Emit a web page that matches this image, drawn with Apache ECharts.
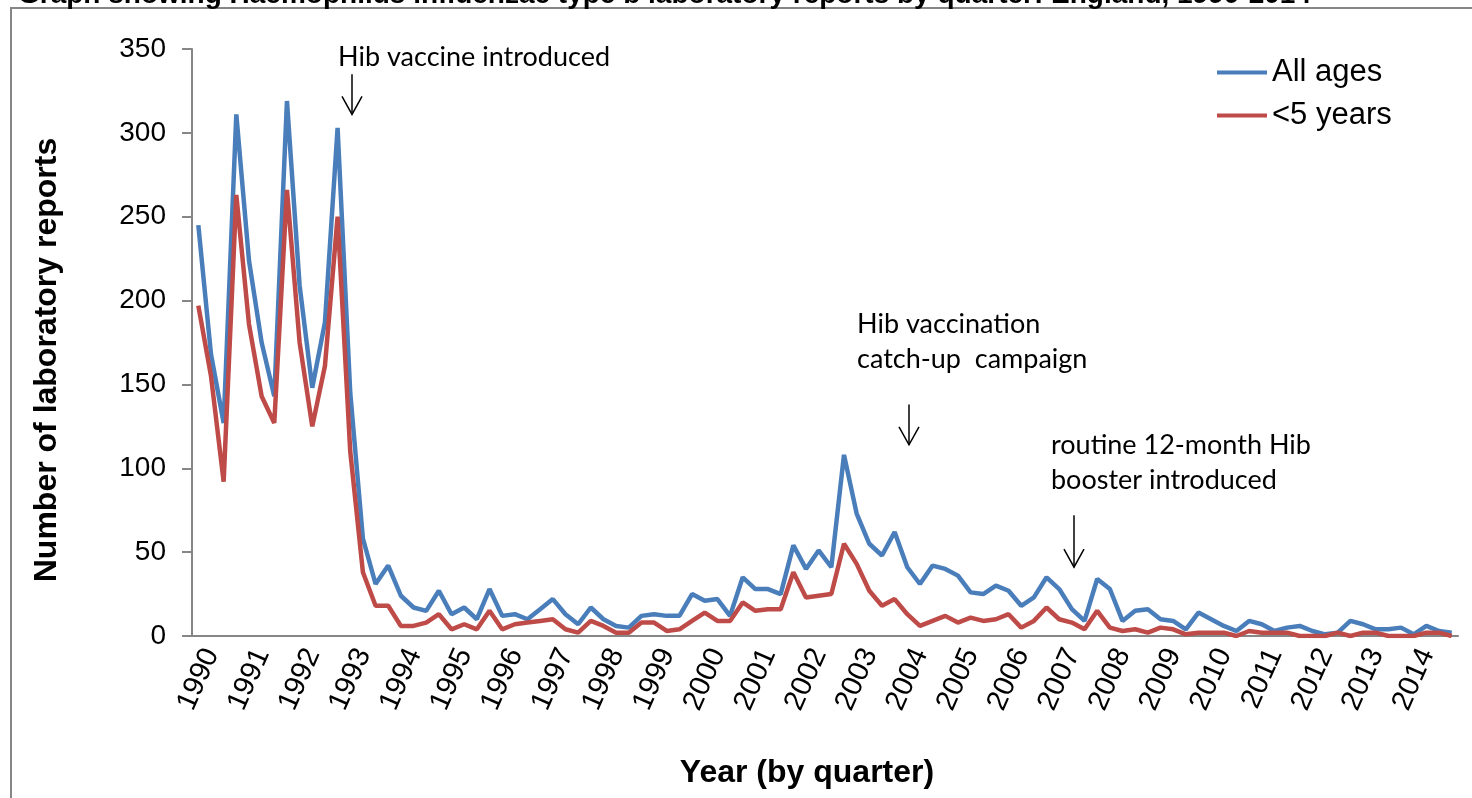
<!DOCTYPE html>
<html>
<head>
<meta charset="utf-8">
<script src="https://cdn.jsdelivr.net/npm/echarts@6/dist/echarts.min.js"></script>
<style>
  html, body { margin: 0; padding: 0; background: #fff; }
  #chart { width: 1472px; height: 798px; }
</style>
</head>
<body>
<div id="chart"></div>
<script>
// one entry per quarter, 1990 Q1 .. 2014 Q4
const years = [1990, 1991, 1992, 1993, 1994, 1995, 1996, 1997, 1998, 1999, 2000, 2001, 2002,
  2003, 2004, 2005, 2006, 2007, 2008, 2009, 2010, 2011, 2012, 2013, 2014];

const allAges = [
  245, 168, 127, 311, 224, 175, 143, 319, 209, 148,
  187, 303, 145, 58, 31, 42, 24, 17, 15, 27,
  13, 17, 10, 28, 12, 13, 10, 16, 22, 13,
  7, 17, 10, 6, 5, 12, 13, 12, 12, 25,
  21, 22, 12, 35, 28, 28, 25, 54, 40, 51,
  41, 108, 73, 55, 48, 62, 41, 31, 42, 40,
  36, 26, 25, 30, 27, 18, 23, 35, 28, 16,
  9, 34, 28, 9, 15, 16, 10, 9, 4, 14,
  10, 6, 3, 9, 7, 3, 5, 6, 3, 1,
  2, 9, 7, 4, 4, 5, 1, 6, 3, 2
];

const underFive = [
  197, 155, 92, 263, 186, 143, 127, 266, 175, 125,
  161, 250, 110, 38, 18, 18, 6, 6, 8, 13,
  4, 7, 4, 15, 4, 7, 8, 9, 10, 4,
  2, 9, 6, 2, 2, 8, 8, 3, 4, 9,
  14, 9, 9, 20, 15, 16, 16, 38, 23, 24,
  25, 55, 43, 27, 18, 22, 13, 6, 9, 12,
  8, 11, 9, 10, 13, 5, 9, 17, 10, 8,
  4, 15, 5, 3, 4, 2, 5, 4, 1, 2,
  2, 2, 0, 3, 2, 2, 2, 0, 0, 0,
  2, 0, 2, 2, 0, 0, 0, 2, 2, 0
];

// annotations: quarter index the arrow points at, arrow top / bottom values
const noteText = ['Hib vaccine introduced', 'Hib vaccination\ncatch-up  campaign', 'routine 12-month Hib\nbooster introduced'];
const noteQuarter = [12, 56, 69];
const noteArrowTop = [335, 138, 72];
const noteArrowEnd = [311, 114, 41];

const quarters = [];
years.forEach(y => { for (let q = 1; q <= 4; q++) quarters.push(y + ' Q' + q); });

const FONT = '"Liberation Sans", Arial, sans-serif';
const grey = '#868686';

var chart = echarts.init(document.getElementById('chart'));

var option = {
  animation: false,
  backgroundColor: '#fff',
  grid: { left: 192, right: 14, top: 49, bottom: 162 },
  legend: {
    orient: 'vertical',
    left: 1217,
    top: 57,
    padding: 0,
    icon: 'rect',
    itemWidth: 50,
    itemHeight: 4,
    itemGap: 12,
    textStyle: { fontFamily: FONT, fontSize: 31, color: '#000' },
    data: ['All ages', '<5 years']
  },
  xAxis: {
    type: 'category',
    data: quarters,
    boundaryGap: true,
    axisLine: { lineStyle: { color: grey, width: 2 } },
    axisTick: { interval: 0, length: 8, lineStyle: { color: grey, width: 2 } },
    axisLabel: {
      interval: 3,
      rotate: 66,
      margin: 8,
      verticalAlign: 'top',
      fontFamily: FONT,
      fontSize: 29,
      color: '#000',
      formatter: v => v.slice(0, 4)
    },
    splitLine: { show: false }
  },
  yAxis: {
    type: 'value',
    min: 0,
    max: 350,
    interval: 50,
    axisLine: { show: true, lineStyle: { color: grey, width: 2 } },
    axisTick: { show: true, length: 10, lineStyle: { color: grey, width: 2 } },
    axisLabel: { fontFamily: FONT, fontSize: 28, color: '#000', margin: 26 },
    splitLine: { show: false }
  },
  series: [
    {
      name: 'All ages', type: 'line', data: allAges, symbol: 'none',
      lineStyle: { color: '#4A7EBB', width: 4.5 }, itemStyle: { color: '#4A7EBB' }
    },
    {
      name: '<5 years', type: 'line', data: underFive, symbol: 'none',
      lineStyle: { color: '#BE4B48', width: 4.5 }, itemStyle: { color: '#BE4B48' }
    }
  ]
};
chart.setOption(option);

// frame, title, axis names and the annotation arrows
const graphic = [
  { type: 'rect', shape: { x: 11, y: 8, width: 1500, height: 820 }, style: { fill: 'none', stroke: grey, lineWidth: 2 }, z: -1 },
  { type: 'text', x: 18, y: -19, style: { text: 'Graph showing Haemophilus influenzae type b laboratory reports by quarter: England, 1990-2014', font: 'bold 28px ' + FONT, fill: '#000' } },
  { type: 'text', x: 47, y: 360, rotation: Math.PI / 2, style: { text: 'Number of laboratory reports', font: 'bold 32px ' + FONT, fill: '#000', align: 'center', verticalAlign: 'middle' } },
  { type: 'text', x: 807, y: 773, style: { text: 'Year (by quarter)', font: 'bold 32px ' + FONT, fill: '#000', align: 'center', verticalAlign: 'middle' } }
];
const textOffset = [[-14, -34], [-52, -98], [-23, -87]];
noteText.forEach((t, k) => {
  const top = chart.convertToPixel({ xAxisIndex: 0, yAxisIndex: 0 }, [noteQuarter[k], noteArrowTop[k]]);
  const end = chart.convertToPixel({ xAxisIndex: 0, yAxisIndex: 0 }, [noteQuarter[k], noteArrowEnd[k]]);
  const x = Math.round(top[0]) + 2;
  graphic.push({ type: 'line', shape: { x1: x, y1: top[1], x2: x, y2: end[1] }, style: { stroke: '#000', lineWidth: 1.5 } });
  graphic.push({ type: 'polyline', shape: { points: [[x - 10, end[1] - 18], [x, end[1]], [x + 10, end[1] - 18]] }, style: { stroke: '#000', lineWidth: 1.5, fill: 'none' } });
  graphic.push({ type: 'text', x: x + textOffset[k][0], y: top[1] + textOffset[k][1], style: { text: t, font: '27px Lato, sans-serif', lineHeight: 35, fill: '#000' } });
});
chart.setOption({ graphic: graphic });
</script>
</body>
</html>
